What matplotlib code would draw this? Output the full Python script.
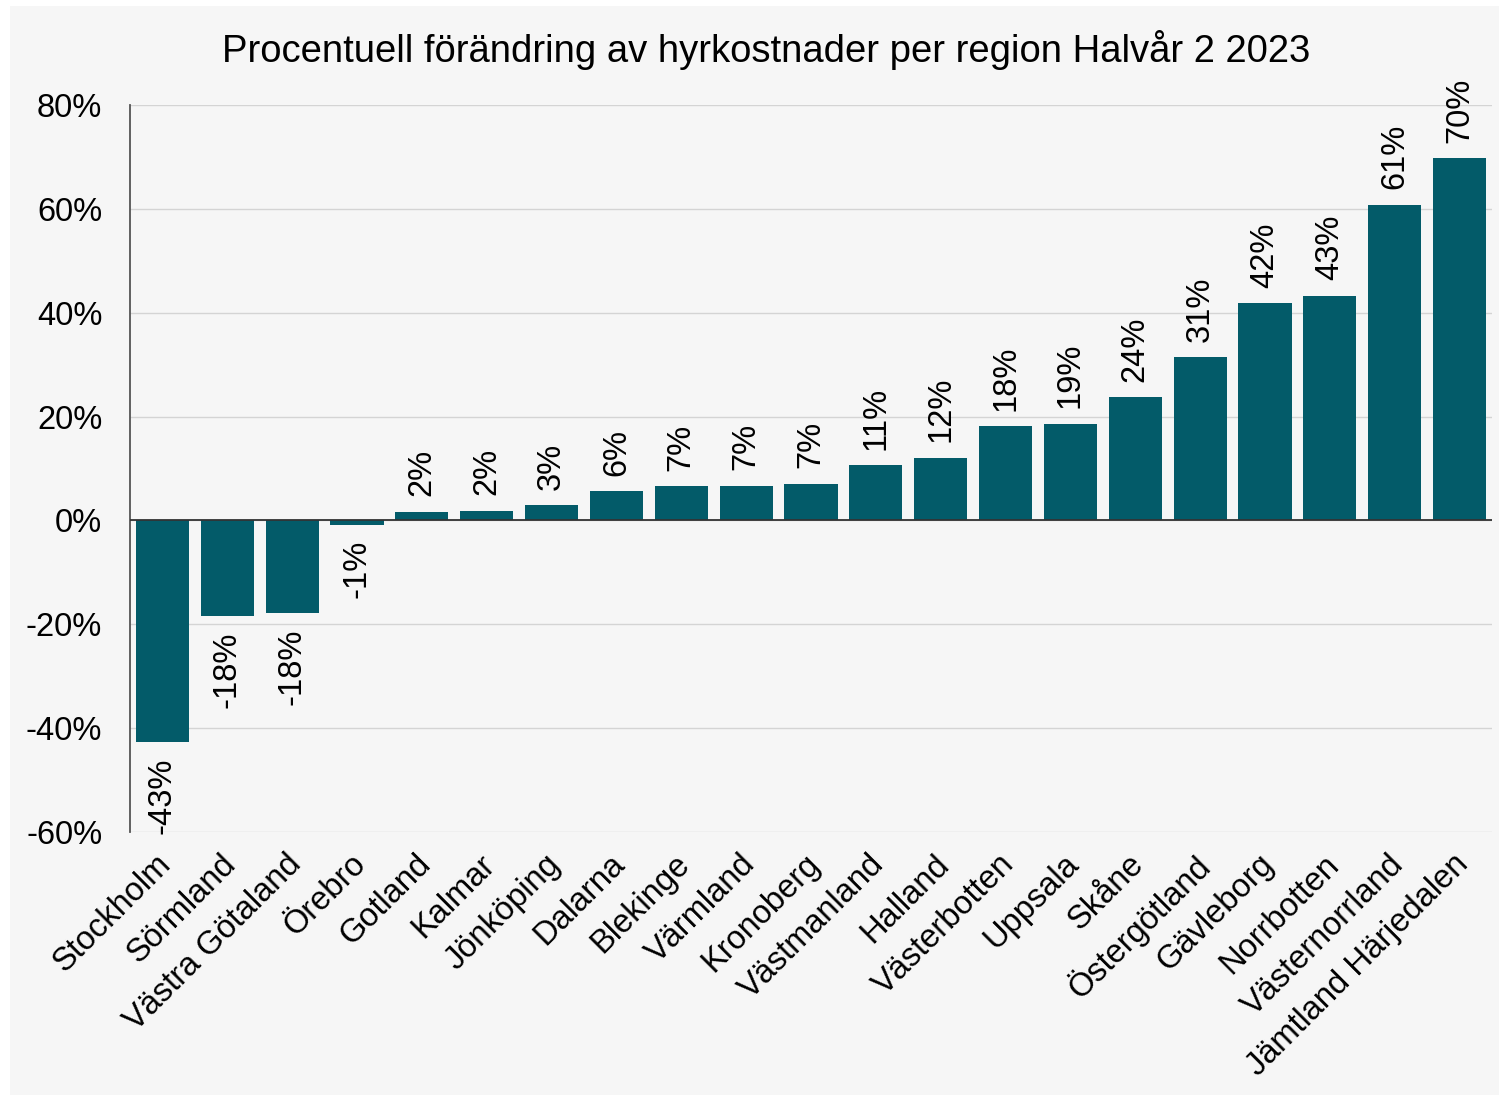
import matplotlib
matplotlib.use("Agg")
import matplotlib.pyplot as plt
from matplotlib.patches import Rectangle
from matplotlib.transforms import ScaledTranslation

plt.rcParams['font.family'] = ['Liberation Sans', 'DejaVu Sans']

regions = ['Stockholm', 'Sörmland', 'Västra Götaland', 'Örebro', 'Gotland', 'Kalmar',
           'Jönköping', 'Dalarna', 'Blekinge', 'Värmland', 'Kronoberg', 'Västmanland',
           'Halland', 'Västerbotten', 'Uppsala', 'Skåne', 'Östergötland', 'Gävleborg',
           'Norrbotten', 'Västernorrland', 'Jämtland Härjedalen']
change = [-42.7, -18.5, -17.9, -0.8, 1.7, 1.9, 2.9, 5.6, 6.6, 6.7, 7.1, 10.6,
          12.1, 18.1, 18.6, 23.7, 31.4, 41.8, 43.3, 60.8, 69.7]
yticks = [-60, -40, -20, 0, 20, 40, 60, 80]

bar_color = '#035b69'
bg = '#f6f6f6'

fig = plt.figure(figsize=(14.99, 10.95), dpi=100)
fig.patch.set_facecolor('white')
fig.patches.append(Rectangle((10 / 1499, 0), 1, 1 - 6 / 1095, transform=fig.transFigure,
                             facecolor=bg, edgecolor='none', zorder=-10))

ax = fig.add_axes([130 / 1499, 1 - 832 / 1095, (1492 - 130) / 1499, (832 - 105) / 1095])
ax.set_facecolor(bg)

x = range(len(regions))
ax.bar(x, change, width=0.82, color=bar_color, zorder=3)

for xi, v in zip(x, change):
    if v >= 0:
        ax.text(xi, v + 3, f'{round(v):.0f}%', rotation=90, ha='center', va='bottom', fontsize=23.5)
    else:
        ax.text(xi, v - 3, f'{round(v):.0f}%', rotation=90, ha='center', va='top', fontsize=23.5)

ax.set_xlim(-0.5, len(regions) - 0.5)
ax.set_ylim(-60, 80)
ax.set_yticks(yticks)
ax.set_yticklabels([f'{t}%' for t in yticks], fontsize=23.5)
ax.set_xticks(list(x))
ax.set_xticklabels(regions, rotation=45, ha='right', rotation_mode='anchor', fontsize=23.5)
ax.tick_params(axis='y', length=0, pad=20)
ax.tick_params(axis='x', length=0, pad=12)
shift = ScaledTranslation(-7 / 100, 0, fig.dpi_scale_trans)
for lbl in ax.get_xticklabels():
    lbl.set_transform(lbl.get_transform() + shift)

ax.grid(axis='y', color='#d4d4d4', linewidth=1, zorder=0)
ax.axhline(0, color='#333333', linewidth=1.3, zorder=4)
for s in ['top', 'right', 'bottom']:
    ax.spines[s].set_visible(False)
ax.spines['left'].set_color('#555555')
ax.spines['left'].set_linewidth(1.3)

fig.text(0.511, 1 - 50 / 1095, 'Procentuell förändring av hyrkostnader per region Halvår 2 2023',
         ha='center', va='center', fontsize=27.5)

fig.savefig('out.png', dpi=100, facecolor=fig.get_facecolor())
